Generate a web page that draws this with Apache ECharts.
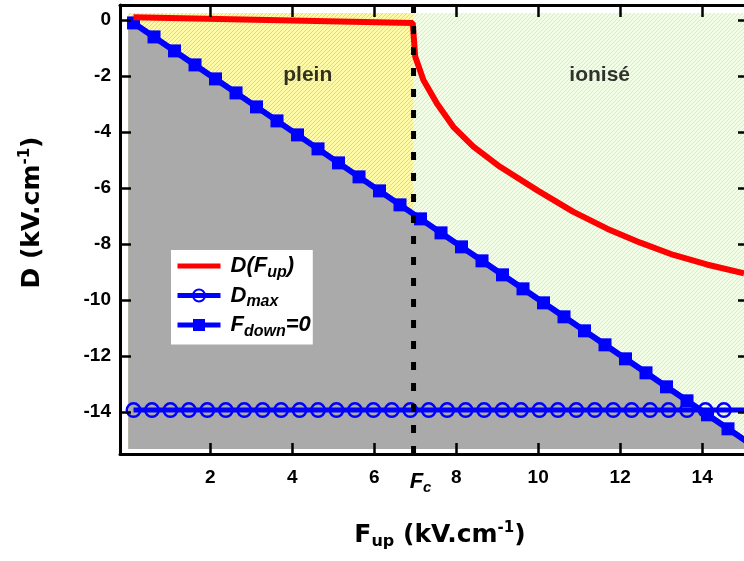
<!DOCTYPE html>
<html><head><meta charset="utf-8">
<script src="https://cdn.jsdelivr.net/npm/echarts@6/dist/echarts.min.js"></script>
<style>html,body{margin:0;padding:0;background:#fff}#c{width:744px;height:561px}</style>
</head><body><div id="c"></div>
<script>
// ---- data ----
const xTicks = [2, 4, 6, 8, 10, 12, 14];
const yTicks = [0, -2, -4, -6, -8, -10, -12, -14];
const Fc = 6.96;
const regionTop = 0.25;
const regionBottom = -15.32;
const regionLeft = 0;
const regionRight = 15.02;

const redF = [0.13, 6.94, 7.0, 7.2, 7.53, 7.93, 8.42, 9.07, 10.0, 10.86, 11.68, 12.49, 13.3, 14.11, 15.02];
const redD = [0.1, -0.1, -1.3, -2.14, -2.98, -3.81, -4.52, -5.24, -6.1, -6.85, -7.45, -7.95, -8.39, -8.73, -9.05];

const fdownF = [0.13, 0.63, 1.13, 1.63, 2.13, 2.63, 3.13, 3.63, 4.13, 4.63, 5.13, 5.63, 6.13, 6.63, 7.13, 7.63,
  8.13, 8.63, 9.13, 9.63, 10.13, 10.63, 11.13, 11.63, 12.13, 12.63, 13.13, 13.63, 14.13, 14.63, 15.13];
const fdownD = [-0.1, -0.6, -1.1, -1.6, -2.1, -2.6, -3.1, -3.6, -4.1, -4.6, -5.1, -5.6, -6.1, -6.6, -7.1, -7.6,
  -8.1, -8.6, -9.1, -9.6, -10.1, -10.6, -11.1, -11.6, -12.1, -12.6, -13.1, -13.6, -14.1, -14.6, -15.1];

const dmaxF = [0.13, 0.58, 1.03, 1.48, 1.93, 2.38, 2.83, 3.28, 3.73, 4.18, 4.63, 5.08, 5.53, 5.98, 6.43, 6.88,
  7.33, 7.78, 8.23, 8.68, 9.13, 9.58, 10.03, 10.48, 10.93, 11.38, 11.83, 12.28, 12.73, 13.18, 13.63, 14.08, 14.53];
const dmaxD = [-13.93, -13.93, -13.93, -13.93, -13.93, -13.93, -13.93, -13.93, -13.93, -13.93, -13.93, -13.93,
  -13.93, -13.93, -13.93, -13.93, -13.93, -13.93, -13.93, -13.93, -13.93, -13.93, -13.93, -13.93, -13.93,
  -13.93, -13.93, -13.93, -13.93, -13.93, -13.93, -13.93, -13.93];
const dmaxLineEnd = [15.02, -13.93];

const regionLabels = ['plein', 'ionisé'];
const regionLabelF = [4.38, 11.5];
const regionLabelD = [-1.96, -1.96];

// ---- helpers ----
function hatch(bg, fg) {
  const c = document.createElement('canvas');
  c.width = 4; c.height = 4;
  const g = c.getContext('2d');
  g.fillStyle = bg; g.fillRect(0, 0, 4, 4);
  g.fillStyle = fg;
  for (let i = 0; i < 4; i++) g.fillRect(i, 3 - i, 1, 1);
  return { image: c, repeat: 'repeat' };
}
function polySeries(points, fill, z) {
  return {
    type: 'custom', z: z, silent: true,
    data: [[points[0][0], points[0][1]]],
    renderItem: function (params, api) {
      return { type: 'polygon', shape: { points: points.map(p => api.coord(p)) }, style: { fill: fill } };
    }
  };
}
const zip = (a, b) => a.map((v, i) => [v, b[i]]);

const yellowPoly = [[regionLeft, regionTop], [Fc, regionTop], [Fc, regionBottom], [regionLeft, regionBottom]];
const greenPoly = [[Fc, regionTop], [regionRight, regionTop], [regionRight, regionBottom], [Fc, regionBottom]];
const grayPoly = [[regionLeft, 0], [regionRight, -regionRight], [regionRight, regionBottom], [regionLeft, regionBottom]];

const FONT = 'Liberation Sans, Arial, sans-serif';
const TFONT = 'DejaVu Sans, Verdana, sans-serif';
const chart = echarts.init(document.getElementById('c'), null, { renderer: 'canvas' });

const legendNames = { 'D(F_up)': '{m|D(F}{s|up}{m|)}', 'D_max': '{m|D}{s|max}', 'F_down=0': '{m|F}{s|down}{m|=0}' };

chart.setOption({
  animation: false,
  textStyle: { fontFamily: FONT },
  grid: { left: 120, right: 0, top: 5, bottom: 107, containLabel: false, outerBoundsMode: 'none' },
  xAxis: [{
    type: 'value', min: -0.2, max: 15.02, position: 'bottom', z: 10,
    axisLine: { onZero: false, lineStyle: { color: '#000', width: 3 } },
    axisTick: { inside: true, length: 11, lineStyle: { color: '#000', width: 2.5 }, customValues: xTicks },
    axisLabel: {
      customValues: xTicks.concat([Fc]), margin: 14, color: '#000',
      formatter: v => (v === Fc ? '{f|F}{fs|c}' : '{n|' + v + '}'),
      rich: {
        n: { fontSize: 19, fontWeight: 'bold', fontFamily: FONT, color: '#000' },
        f: { fontSize: 22, fontWeight: 'bold', fontStyle: 'italic', fontFamily: FONT, color: '#000', padding: [0, 0, 0, 14] },
        fs: { fontSize: 15, fontWeight: 'bold', fontStyle: 'italic', fontFamily: FONT, color: '#000', verticalAlign: 'bottom', padding: [12, 0, 0, 0] }
      }
    },
    splitLine: { show: false },
    name: '{a|F}{s|up}{a| (kV.cm}{p|-1}{a|)}', nameLocation: 'middle', nameGap: 66,
    nameTextStyle: {
      padding: [0, 0, 0, 16],
      rich: {
        a: { fontSize: 25, fontWeight: 'bold', fontFamily: TFONT, color: '#000' },
        s: { fontSize: 16, fontWeight: 'bold', fontFamily: TFONT, color: '#000', padding: [14, 0, 0, 0] },
        p: { fontSize: 15, fontWeight: 'bold', fontFamily: TFONT, color: '#000', padding: [0, 0, 13, 0] }
      }
    }
  }, {
    type: 'value', min: -0.2, max: 15.02, position: 'top', z: 10,
    axisLine: { onZero: false, lineStyle: { color: '#000', width: 3 } },
    axisTick: { inside: true, length: 12, lineStyle: { color: '#000', width: 2.5 }, customValues: xTicks },
    axisLabel: { show: false }, splitLine: { show: false }
  }],
  yAxis: [{
    type: 'value', min: -15.5, max: 0.54, position: 'left', z: 10,
    axisLine: { onZero: false, lineStyle: { color: '#000', width: 3 } },
    axisTick: { inside: true, length: 11, lineStyle: { color: '#000', width: 2.5 }, customValues: yTicks },
    axisLabel: { customValues: yTicks, margin: 9, fontSize: 19, fontWeight: 'bold', color: '#000', fontFamily: FONT },
    splitLine: { show: false },
    name: '{a|D (kV.cm}{p|-1}{a|)}', nameLocation: 'middle', nameGap: 74, nameRotate: 90,
    nameTextStyle: {
      padding: [0, 0, 0, 34],
      rich: {
        a: { fontSize: 25, fontWeight: 'bold', fontFamily: TFONT, color: '#000' },
        p: { fontSize: 15, fontWeight: 'bold', fontFamily: TFONT, color: '#000', padding: [0, 0, 13, 0] }
      }
    }
  }, {
    type: 'value', min: -15.5, max: 0.54, position: 'right', z: 10,
    axisLine: { show: false, onZero: false },
    axisTick: { show: true, inside: true, length: 6, lineStyle: { color: '#000', width: 2.5 }, customValues: yTicks },
    axisLabel: { show: false }, splitLine: { show: false }
  }],
  legend: {
    data: [{ name: 'D(F_up)', itemStyle: { opacity: 0 } }, 'D_max', 'F_down=0'],
    orient: 'vertical', left: 171, top: 250, z: 12,
    backgroundColor: '#fff', padding: [5, 2, 5, 4], itemGap: 4,
    itemWidth: 43, itemHeight: 15, selectedMode: false,
    lineStyle: { width: 5 },
    formatter: n => legendNames[n],
    textStyle: {
      rich: {
        m: { fontSize: 22, fontWeight: 'bold', fontStyle: 'italic', fontFamily: FONT, color: '#000' },
        s: { fontSize: 16, fontWeight: 'bold', fontStyle: 'italic', fontFamily: FONT, color: '#000', padding: [13, 0, 0, 0] }
      },
      padding: [0, 0, 0, 5]
    }
  },
  series: [
    polySeries(yellowPoly, hatch('#fffaa6', '#ece03c'), 1),
    polySeries(greenPoly, hatch('#f1fde4', '#d5f0b5'), 1),
    polySeries(grayPoly, '#aaaaaa', 2),
    {
      name: 'D_max', type: 'line', z: 3,
      data: zip(dmaxF, dmaxD).concat([{ value: dmaxLineEnd, symbol: 'none' }]),
      symbol: 'circle', symbolSize: 13.5, showAllSymbol: true,
      lineStyle: { color: '#0000ff', width: 5 },
      itemStyle: { color: 'rgba(0,0,0,0)', borderColor: '#0000ff', borderWidth: 2.5 }
    },
    {
      name: 'F_down=0', type: 'line', z: 4,
      data: zip(fdownF, fdownD),
      symbol: 'rect', symbolSize: 13, showAllSymbol: true,
      lineStyle: { color: '#0000ff', width: 6 },
      itemStyle: { color: '#0000ff' }
    },
    {
      name: 'D(F_up)', type: 'line', z: 5,
      data: zip(redF, redD), symbol: 'none',
      lineStyle: { color: '#ff0000', width: 6 },
      itemStyle: { color: '#ff0000' }
    },
    {
      name: 'Fc', type: 'line', z: 6, symbol: 'none', silent: true,
      data: [[Fc, 0.54], [Fc, -15.5]],
      lineStyle: { color: '#000', width: 5, type: [8, 13] }
    },
    {
      name: 'labels', type: 'scatter', z: 7, symbolSize: 0, silent: true,
      data: regionLabels.map((t, i) => ({ name: t, value: [regionLabelF[i], regionLabelD[i]] })),
      label: { show: true, position: 'inside', formatter: p => p.name, fontSize: 21, fontWeight: 'bold', color: '#000', fontFamily: FONT }
    }
  ]
});
</script></body></html>
